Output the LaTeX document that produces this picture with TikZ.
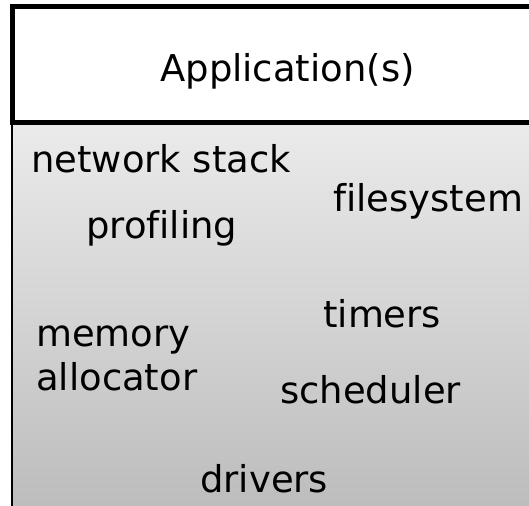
\documentclass[tikz,border=0pt]{standalone}
\usepackage{fontspec}
\setmainfont{DejaVu Sans}[Ligatures=NoCommon]

\begin{document}
\begin{tikzpicture}[x=0.75pt,y=-0.75pt,
    lbl/.style={anchor=base west, inner sep=0pt, align=left,
                font=\fontsize{27.7}{32.3}\selectfont}]
            \useasboundingbox (0,0) rectangle (529,506);
            \clip (0,0) rectangle (529,506);
            \shade[top color=black!8, bottom color=black!26] (12,124) rectangle (545,506);
            \draw[line width=1.5pt] (12,124) -- (12,510);
            \draw[line width=3.5pt, fill=white] (12.5,6.5) rectangle (545,122.5);
            \node[lbl, anchor=base] (app) at (287.5,82) {Application(s)};
            \foreach \nm/\x/\y/\t in {net/31/173/network stack, fs/333/212/filesystem,
                prof/86/239/profiling, timers/323/328/timers, mem/36/390/{memory\\allocator},
                sched/280/403/scheduler, drv/200/492/drivers}{
                \node[lbl] (\nm) at (\x,\y) {\t};
            }
        \end{tikzpicture}
\end{document}
